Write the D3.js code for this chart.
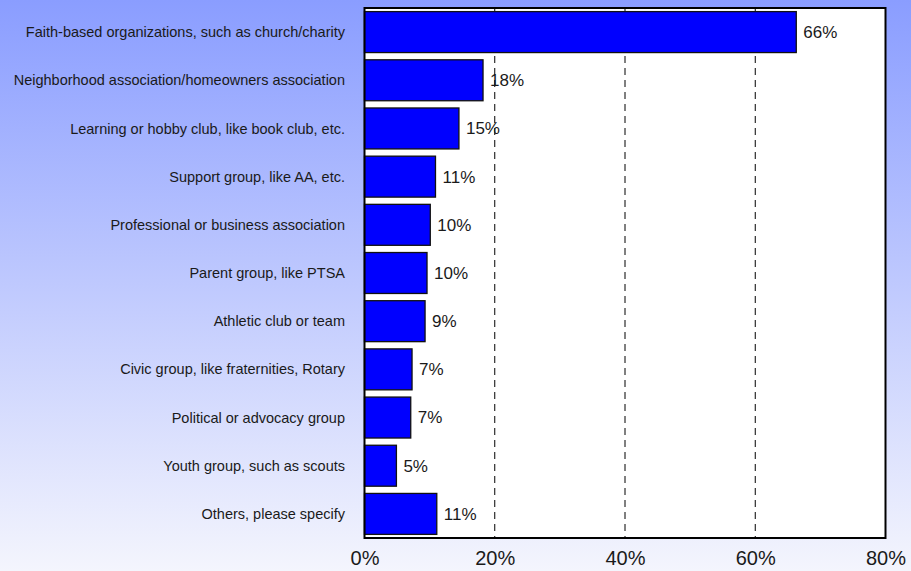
<!DOCTYPE html>
<html>
<head>
<meta charset="utf-8">
<script src="https://cdn.jsdelivr.net/npm/d3@7/dist/d3.min.js"></script>
<style>
  html, body { margin: 0; padding: 0; }
  svg { display: block; }
</style>
</head>
<body>
<svg id="chart" width="911" height="571"></svg>
<script>
// Organisation types, top to bottom
const categories = [
  "Faith-based organizations, such as church/charity",
  "Neighborhood association/homeowners association",
  "Learning or hobby club, like book club, etc.",
  "Support group, like AA, etc.",
  "Professional or business association",
  "Parent group, like PTSA",
  "Athletic club or team",
  "Civic group, like fraternities, Rotary",
  "Political or advocacy group",
  "Youth group, such as scouts",
  "Others, please specify"
];
// Share of respondents (%)
const values = [66.3, 18.2, 14.5, 10.9, 10.1, 9.6, 9.3, 7.3, 7.1, 4.9, 11.1];
// Rounded labels shown next to each bar
const valueLabels = ["66%", "18%", "15%", "11%", "10%", "10%", "9%", "7%", "7%", "5%", "11%"];
// X axis ticks
const xTicks = [0, 20, 40, 60, 80];

const W = 911, H = 571;
const plot = { left: 364.5, top: 8, right: 885.5, bottom: 538 };
const FONT = "Liberation Sans, Arial, sans-serif";

const svg = d3.select("#chart");

// background wash
const defs = svg.append("defs");
const grad = defs.append("linearGradient")
  .attr("id", "bg").attr("x1", 0).attr("y1", 0).attr("x2", 0).attr("y2", 1);
grad.append("stop").attr("offset", "0%").attr("stop-color", "#8a9dff");
grad.append("stop").attr("offset", "100%").attr("stop-color", "#f4f5fd");
svg.append("rect").attr("width", W).attr("height", H).attr("fill", "url(#bg)");

const x = d3.scaleLinear().domain([0, 80]).range([plot.left, plot.right]);
const y = d3.scaleBand().domain(categories)
  .range([plot.top, plot.bottom]).paddingInner(0.15).paddingOuter(0.075);

// plot area
svg.append("rect")
  .attr("x", plot.left).attr("y", plot.top)
  .attr("width", plot.right - plot.left).attr("height", plot.bottom - plot.top)
  .attr("fill", "#ffffff");

// dashed gridlines
svg.append("g").selectAll("line")
  .data(xTicks.filter(t => t > 0 && t < 80))
  .join("line")
  .attr("x1", d => x(d)).attr("x2", d => x(d))
  .attr("y1", plot.top).attr("y2", plot.bottom)
  .attr("stroke", "#000").attr("stroke-width", 1)
  .attr("stroke-dasharray", "7,5");

// bars
svg.append("g").selectAll("rect")
  .data(values)
  .join("rect")
  .attr("x", x(0))
  .attr("y", (d, i) => y(categories[i]))
  .attr("width", d => x(d) - x(0))
  .attr("height", y.bandwidth())
  .attr("fill", "#0000ff")
  .attr("stroke", "#111")
  .attr("stroke-width", 1.3);

// value labels
svg.append("g").selectAll("text")
  .data(values)
  .join("text")
  .attr("x", d => x(d) + 7)
  .attr("y", (d, i) => y(categories[i]) + y.bandwidth() / 2)
  .attr("dy", "0.35em")
  .attr("font-family", FONT)
  .attr("font-size", 17)
  .attr("fill", "#1a1a1a")
  .text((d, i) => valueLabels[i]);

// category labels
svg.append("g").selectAll("text")
  .data(categories)
  .join("text")
  .attr("x", 345)
  .attr("y", d => y(d) + y.bandwidth() / 2)
  .attr("dy", "0.35em")
  .attr("text-anchor", "end")
  .attr("font-family", FONT)
  .attr("font-size", 14.5)
  .attr("fill", "#1a1a1a")
  .text(d => d);

// x axis tick labels
const xAxis = d3.axisBottom(x).tickValues(xTicks).tickSize(0).tickPadding(0)
  .tickFormat(d => d + "%");
const ax = svg.append("g").attr("transform", `translate(0,${plot.bottom + 13})`).call(xAxis);
ax.select(".domain").remove();
ax.selectAll("text")
  .attr("font-family", FONT)
  .attr("font-size", 20)
  .attr("fill", "#1a1a1a");

// plot border
svg.append("rect")
  .attr("x", plot.left).attr("y", plot.top)
  .attr("width", plot.right - plot.left).attr("height", plot.bottom - plot.top)
  .attr("fill", "none").attr("stroke", "#000").attr("stroke-width", 2);
</script>
</body>
</html>
